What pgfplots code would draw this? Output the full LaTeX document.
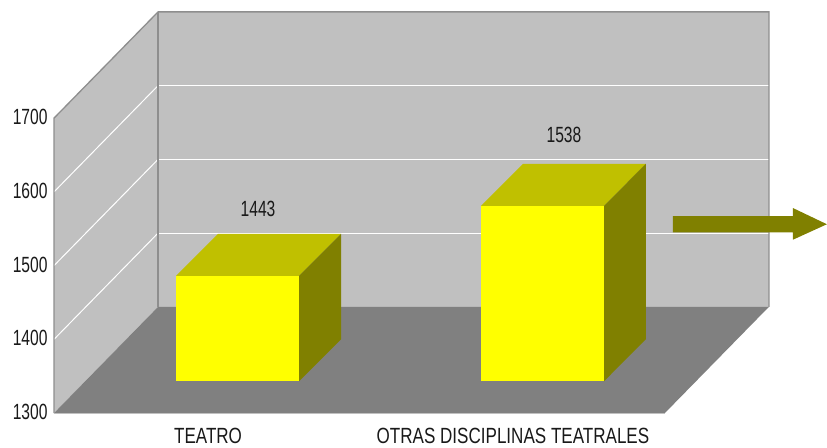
\documentclass[border=0pt]{standalone}
\usepackage{pgfplots}
\pgfplotsset{compat=1.18}
\usepackage{fontspec}
\setmainfont[FakeStretch=0.71]{Liberation Sans}
\newfontfamily\catfont[FakeStretch=0.775]{Liberation Sans}
\definecolor{wall}{HTML}{C0C0C0}
\definecolor{floorc}{HTML}{808080}
\definecolor{edge}{HTML}{8E8E8E}
\definecolor{bartop}{HTML}{C0C000}
\definecolor{barside}{HTML}{808000}
\definecolor{barfront}{RGB}{255,255,0}
\begin{document}
\begin{tikzpicture}
\begin{axis}[
  scale only axis, width=827pt, height=447pt,
  xmin=0, xmax=827, ymin=1253.9, ymax=1860,
  axis line style={draw=none},
  major tick length=0pt,
  clip=false,
  ytick={1300,1400,1500,1600,1700},
  xtick={208,513},
  xticklabels={TEATRO,OTRAS DISCIPLINAS TEATRALES},
  /pgf/number format/assume math mode=true,
  /pgf/number format/1000 sep={},
  yticklabel style={anchor=east, xshift=51pt, yshift=1pt, font=\fontsize{22}{24}\selectfont, text=black!90},
  xticklabel style={anchor=center, yshift=11pt, font=\catfont\fontsize{22}{24}\selectfont, text=black!90},
  facebar/.style={draw=none, forget plot, y filter/.expression={y+43}},
  face/.style={draw=none, forget plot},
  gridl/.style={draw=white, line width=1pt, forget plot},
  wedge/.style={draw=edge, line width=1.3pt, forget plot},
]
% walls and floor
\addplot[face, fill=wall] coordinates {(158,1444)(769,1444)(769,1844)(158,1844)} -- cycle;
\addplot[face, fill=wall] coordinates {(54,1300)(158,1444)(158,1844)(54,1700)} -- cycle;
\addplot[face, fill=floorc] coordinates {(54,1300)(158,1444)(769,1444)(665,1300)} -- cycle;
% gridlines
\addplot[gridl] coordinates {(158,1544)(769,1544)};
\addplot[gridl] coordinates {(158,1644)(769,1644)};
\addplot[gridl] coordinates {(158,1744)(769,1744)};
\addplot[gridl] coordinates {(54,1400)(158,1544)};
\addplot[gridl] coordinates {(54,1500)(158,1644)};
\addplot[gridl] coordinates {(54,1600)(158,1744)};
% wall edges
\addplot[wedge] coordinates {(54,1300)(54,1700)(158,1844)(769,1844)(769,1444)};
\addplot[wedge] coordinates {(158,1444)(158,1844)};
\addplot[draw=wall, line width=1pt, forget plot] coordinates {(54,1300)(665,1300)};
% bar TEATRO = 1443
\addplot[facebar, fill=bartop] coordinates {(176,1443)(218,1500)(341,1500)(299,1443)} -- cycle;
\addplot[facebar, fill=barside] coordinates {(299,1300)(341,1357)(341,1500)(299,1443)} -- cycle;
\addplot[facebar, fill=barfront] coordinates {(176,1300)(299,1300)(299,1443)(176,1443)} -- cycle;
% bar OTRAS DISCIPLINAS TEATRALES = 1538
\addplot[facebar, fill=bartop] coordinates {(481,1538)(523,1595)(646,1595)(604,1538)} -- cycle;
\addplot[facebar, fill=barside] coordinates {(604,1300)(646,1357)(646,1595)(604,1538)} -- cycle;
\addplot[facebar, fill=barfront] coordinates {(481,1300)(604,1300)(604,1538)(481,1538)} -- cycle;
% arrow
\addplot[face, fill=barside] coordinates {(673,1567)(793,1567)(793,1578)(827,1556)(793,1535)(793,1545)(673,1545)} -- cycle;
% value labels
\addplot[draw=none, forget plot, point meta=explicit symbolic,
  nodes near coords, nodes near coords align={center},
  every node near coord/.append style={font=\fontsize{22}{24}\selectfont, text=black!90}]
  coordinates {(258,1577) [1443] (564,1677) [1538]};
\end{axis}
\end{tikzpicture}
\end{document}
